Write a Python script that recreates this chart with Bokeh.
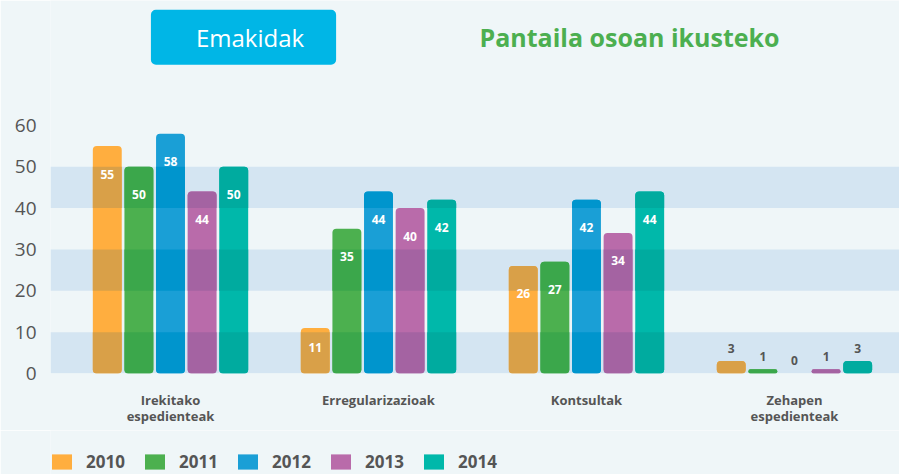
import numpy as np
import pandas as pd
from bokeh.plotting import figure
from bokeh.layouts import column
from bokeh.models import (ColumnDataSource, FixedTicker, Legend, LegendItem, Label,
                          BoxAnnotation, Range1d)
from bokeh.core.properties import value
from bokeh.embed import file_html
from bokeh.resources import INLINE

# ---- data -------------------------------------------------------------
categories = ["Irekitako\nespedienteak", "Erregularizazioak", "Kontsultak", "Zehapen\nespedienteak"]
years = ["2010", "2011", "2012", "2013", "2014"]
v2010 = [55, 11, 26, 3]
v2011 = [50, 35, 27, 1]
v2012 = [58, 44, 42, 0]
v2013 = [44, 40, 34, 1]
v2014 = [50, 42, 44, 3]
y_ticks = [0, 10, 20, 30, 40, 50, 60]
bands = [(0, 10), (20, 30), (40, 50)]
series = [v2010, v2011, v2012, v2013, v2014]

# ---- style -------------------------------------------------------------
colors = ["#FFAE3F", "#4CB04F", "#1A9FD6", "#B96BAA", "#00B8AA"]
darks = ["#D9A048", "#3BA74B", "#0095CD", "#A463A2", "#00AB9F"]
BG = "#EFF6F8"
BAND = "#D4E5F2"
GREY = "#555555"
FONT = "Open Sans"
pitch = 0.152
bar_w = 0.139
R = 4

p = figure(width=899, height=430, output_backend="svg", toolbar_location=None,
           x_range=Range1d(-0.577, 3.505), y_range=Range1d(0, 90.2),
           min_border_left=50, min_border_right=0, min_border_top=0, min_border_bottom=57)
p.background_fill_color = BG
p.border_fill_color = BG
p.outline_line_color = None
p.xgrid.grid_line_color = None
p.ygrid.grid_line_color = None

for lo, hi in bands:
    p.add_layout(BoxAnnotation(bottom=lo, top=hi, fill_color=BAND, fill_alpha=1,
                               line_color=None, level="underlay"))

xs_base = np.arange(len(categories))
offsets = [(i - (len(years) - 1) / 2) * pitch for i in range(len(years))]

for i, (yr, vals) in enumerate(zip(years, series)):
    src = ColumnDataSource(dict(x=xs_base + offsets[i], top=vals))
    p.vbar(x="x", top="top", bottom=0, width=bar_w, source=src,
           fill_color=colors[i], line_color=None, border_radius=R)

# darker parts of the bars where they cross the bands
segs = []
for i, vals in enumerate(series):
    for ci, v in enumerate(vals):
        for lo, hi in bands:
            top = min(v, hi)
            if top > lo:
                segs.append(dict(x=ci + offsets[i], bottom=lo, top=top, color=darks[i],
                                 rt=v <= hi, rb=lo == 0))
segdf = pd.DataFrame(segs)
for (rt, rb), g in segdf.groupby(["rt", "rb"]):
    rad = (R if rt else 0, R if rt else 0, R if rb else 0, R if rb else 0)
    p.vbar(x="x", top="top", bottom="bottom", width=bar_w, fill_color="color",
           line_color=None, border_radius=rad, source=ColumnDataSource(g))

# value labels
lx, ly, lt, loff, lc = [], [], [], [], []
for i, vals in enumerate(series):
    for ci, v in enumerate(vals):
        lx.append(ci + offsets[i])
        ly.append(v)
        lt.append(str(v))
        if v >= 20:
            loff.append(28); lc.append("white")
        elif v >= 10:
            loff.append(19); lc.append("white")
        else:
            loff.append(-13); lc.append(GREY)
p.text(x="x", y="y", text="t", y_offset="o", text_color="c",
       source=ColumnDataSource(dict(x=lx, y=ly, t=lt, o=loff, c=lc)),
       text_align="center", text_baseline="middle", text_font=value(FONT),
       text_font_size="12px", text_font_style="bold")

# axes
p.yaxis.ticker = FixedTicker(ticks=y_ticks)
p.yaxis.axis_line_color = None
p.yaxis.major_tick_line_color = None
p.yaxis.minor_tick_line_color = None
p.yaxis.major_label_standoff = 8
p.yaxis.major_label_text_font = FONT
p.yaxis.major_label_text_font_size = "19px"
p.yaxis.major_label_text_color = GREY

p.xaxis.ticker = FixedTicker(ticks=list(range(len(categories))))
p.xaxis.major_label_overrides = {i: c for i, c in enumerate(categories)}
p.xaxis.axis_line_color = None
p.xaxis.major_tick_line_color = None
p.xaxis.minor_tick_line_color = None
p.xaxis.major_label_standoff = 11
p.xaxis.major_label_text_font = FONT
p.xaxis.major_label_text_font_size = "13px"
p.xaxis.major_label_text_font_style = "bold"
p.xaxis.major_label_text_color = GREY
p.xaxis.major_label_text_line_height = 0.9

# header
p.add_layout(Label(x=0.351, y=81.3, text="Emakidak", text_align="center", text_baseline="middle",
                   text_color="white", text_font=FONT, text_font_size="24px",
                   background_fill_color="#00B6E6", border_radius=5,
                   padding=dict(left=45, right=32, top=11, bottom=11)))
p.add_layout(Label(x=2.207, y=81.3, text="Pantaila osoan ikusteko", text_align="center",
                   text_baseline="middle", text_color="#4CAF50", text_font=FONT,
                   text_font_size="25px", text_font_style="bold"))

# legend strip
lg = figure(width=899, height=44, output_backend="svg", toolbar_location=None,
            x_range=Range1d(0, 1), y_range=Range1d(0, 1), x_axis_type=None, y_axis_type=None,
            min_border_left=0, min_border_right=0, min_border_top=0, min_border_bottom=0)
lg.background_fill_color = BG
lg.border_fill_color = BG
lg.outline_line_color = None
lg.xgrid.grid_line_color = None
lg.ygrid.grid_line_color = None
items = []
for yr, c in zip(years, colors):
    # hidden proxy glyph; only its legend swatch is shown
    r = lg.vbar(x=[0.5], top=[1], bottom=[0], width=0.1, fill_color=c, line_color=None,
                border_radius=R)
    r.visible = False
    items.append(LegendItem(label=yr, renderers=[r]))
legend = Legend(items=items, orientation="horizontal", location=(-1, 1), glyph_width=25,
                glyph_height=19, label_standoff=12, spacing=10, label_width=46, padding=0,
                margin=0, background_fill_alpha=0, border_line_color=None,
                label_text_font=FONT, label_text_font_size="17px",
                label_text_font_style="bold", label_text_color=GREY)
lg.add_layout(legend, "center")

layout = column(p, lg, spacing=0)
open("out.html", "w").write(file_html(layout, INLINE))
